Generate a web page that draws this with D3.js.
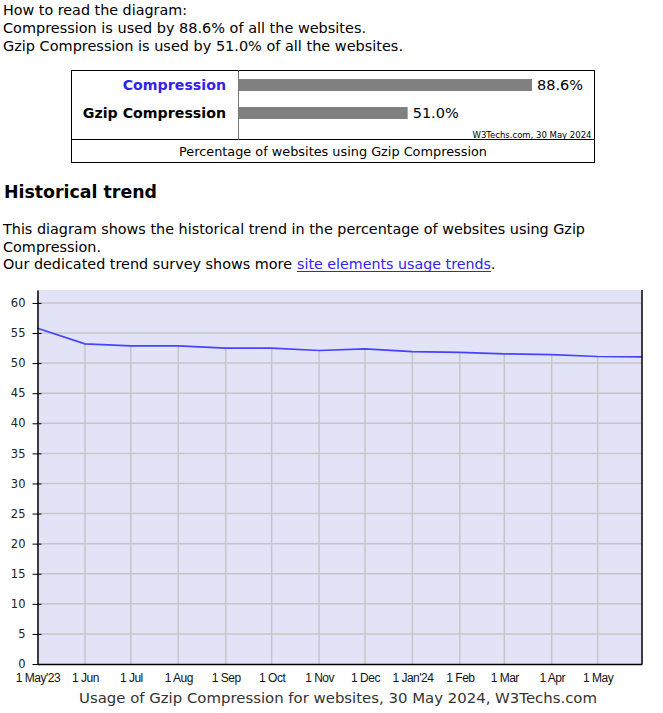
<!DOCTYPE html>
<html>
<head>
<meta charset="utf-8">
<script src="https://cdn.jsdelivr.net/npm/d3@7"></script>
<style>
  html, body { margin: 0; padding: 0; background: #fff; }
  svg { display: block; font-family: "DejaVu Sans", Verdana, sans-serif; }
</style>
</head>
<body>
<svg id="page" width="663" height="713"></svg>
<script>
// ---------- data ----------
const barCategories = ["Compression", "Gzip Compression"];
const barValues = [88.6, 51.0];
const barColors = ["#3322ee", "#000000"];

const trendDates = ["2023-05-01","2023-06-01","2023-07-01","2023-08-01","2023-09-01","2023-10-01",
  "2023-11-01","2023-12-01","2024-01-01","2024-02-01","2024-03-01","2024-04-01","2024-05-01","2024-05-30"];
const trendValues = [55.8, 53.2, 52.85, 52.85, 52.5, 52.5, 52.1, 52.35, 51.9, 51.8, 51.55, 51.4, 51.1, 51.05];

const xTickDates = ["2023-05-01","2023-06-01","2023-07-01","2023-08-01","2023-09-01","2023-10-01",
  "2023-11-01","2023-12-01","2024-01-01","2024-02-01","2024-03-01","2024-04-01","2024-05-01"];
const xTickLabels = ["1 May'23","1 Jun","1 Jul","1 Aug","1 Sep","1 Oct","1 Nov","1 Dec","1 Jan'24","1 Feb","1 Mar","1 Apr","1 May"];
const yTicks = [0,5,10,15,20,25,30,35,40,45,50,55,60];

// ---------- page ----------
const svg = d3.select("#page");
const parse = d3.timeParse("%Y-%m-%d");

function txt(x, y, s, opts = {}) {
  const t = svg.append("text").attr("x", x).attr("y", y).text(s)
    .attr("font-size", opts.size || 14)
    .attr("fill", opts.fill || "#000")
    .attr("text-anchor", opts.anchor || "start");
  if (opts.bold) t.attr("font-weight", "bold");
  if (opts.family) t.attr("font-family", opts.family);
  if (opts.len) t.attr("textLength", opts.len).attr("lengthAdjust", "spacingAndGlyphs");
  return t;
}

txt(3, 15, "How to read the diagram:", {len: 184});
txt(3, 33, "Compression is used by 88.6% of all the websites.", {len: 363});
txt(3, 51, "Gzip Compression is used by 51.0% of all the websites.", {len: 400});

// ---------- bar chart box ----------
const box = {l: 71.5, r: 594.5, t: 70.5, b: 162.5, div: 139.5, split: 238.5};
svg.append("rect").attr("x", box.l).attr("y", box.t).attr("width", box.r - box.l).attr("height", box.b - box.t)
  .attr("fill", "none").attr("stroke", "#000").attr("stroke-width", 1);
svg.append("line").attr("x1", box.l).attr("x2", box.r).attr("y1", box.div).attr("y2", box.div).attr("stroke", "#000");
svg.append("line").attr("x1", box.split).attr("x2", box.split).attr("y1", box.t).attr("y2", box.div).attr("stroke", "#777");

const bx = d3.scaleLinear().domain([0, 100]).range([239, 239 + 330.7]);
const by = d3.scaleBand().domain(barCategories).range([71, 127]).paddingInner(0.5).paddingOuter(0.25);

svg.append("g").selectAll("rect").data(barCategories).join("rect")
  .attr("x", bx(0)).attr("y", d => by(d) + by.bandwidth()/2 - 6)
  .attr("width", (d, i) => bx(barValues[i]) - bx(0)).attr("height", 12)
  .attr("fill", "#808080");
svg.append("g").selectAll("text").data(barCategories).join("text")
  .attr("x", 226).attr("y", d => by(d) + by.bandwidth()/2 + 4.5)
  .attr("text-anchor", "end").attr("font-weight", "bold").attr("font-size", 14.2)
  .attr("fill", (d, i) => barColors[i]).text(d => d);
svg.append("g").selectAll("text").data(barCategories).join("text")
  .attr("x", (d, i) => bx(barValues[i]) + 5).attr("y", d => by(d) + by.bandwidth()/2 + 4.5)
  .attr("font-size", 14.5).text((d, i) => barValues[i].toFixed(1) + "%");

txt(591.5, 137.5, "W3Techs.com, 30 May 2024", {size: 9, anchor: "end", len: 119});
txt(333, 156, "Percentage of websites using Gzip Compression", {size: 13, anchor: "middle", len: 308});

// ---------- section text ----------
txt(4, 198, "Historical trend", {size: 17.5, bold: true, len: 153});
txt(3, 234, "This diagram shows the historical trend in the percentage of websites using Gzip", {len: 582});
txt(3, 251.5, "Compression.", {len: 98});
txt(3, 269, "Our dedicated trend survey shows more", {len: 289});
txt(297, 269, "site elements usage trends", {fill: "#3322ee", len: 194});
svg.append("line").attr("x1", 297).attr("x2", 491).attr("y1", 271.5).attr("y2", 271.5).attr("stroke", "#3322ee").attr("stroke-width", 1);
txt(491, 269, ".", {});

// ---------- trend chart ----------
const plot = {l: 37.5, r: 642, t: 290, b: 664};
const x = d3.scaleTime().domain([parse("2023-05-01"), parse("2024-05-30")]).range([plot.l, plot.r]);
const y = d3.scaleLinear().domain([0, 62.15]).range([plot.b, plot.t]);

svg.append("rect").attr("x", plot.l).attr("y", plot.t).attr("width", plot.r - plot.l).attr("height", plot.b - plot.t)
  .attr("fill", "#e3e3f8");

// horizontal grid
svg.append("g").selectAll("line").data(yTicks.filter(v => v > 0)).join("line")
  .attr("x1", plot.l).attr("x2", plot.r).attr("y1", d => y(d)).attr("y2", d => y(d))
  .attr("stroke", "#c6c6c6").attr("stroke-width", 1.5);
// vertical grid
svg.append("g").selectAll("line").data(xTickDates.slice(1)).join("line")
  .attr("x1", d => x(parse(d))).attr("x2", d => x(parse(d)))
  .attr("y1", d => y(trendValues[xTickDates.indexOf(d)]) ).attr("y2", plot.b)
  .attr("stroke", "#c6c6c6").attr("stroke-width", 1.5);

// line
const line = d3.line().x((d, i) => x(parse(trendDates[i]))).y(d => y(d));
svg.append("path").datum(trendValues).attr("d", line)
  .attr("fill", "none").attr("stroke", "#4444ff").attr("stroke-width", 1.7);

// y axis
const yAxis = d3.axisLeft(y).tickValues(yTicks).tickSizeOuter(0).tickSizeInner(5).tickPadding(7);
const ya = svg.append("g").attr("transform", `translate(${plot.l},0)`).call(yAxis);
ya.select(".domain").attr("stroke", "#000").attr("stroke-width", 1.5);
ya.selectAll(".tick line").attr("stroke", "#000").attr("x2", -5).attr("x1", 4);
ya.selectAll(".tick text").attr("font-family", "DejaVu Sans").attr("font-size", 11.5).attr("fill", "#222");

// x axis
const xAxis = d3.axisBottom(x).tickValues(xTickDates.map(parse)).tickSize(0).tickPadding(9)
  .tickFormat((d, i) => xTickLabels[i]);
const xa = svg.append("g").attr("transform", `translate(0,${plot.b})`).call(xAxis);
xa.select(".domain").attr("stroke", "#000").attr("stroke-width", 1.5);
xa.selectAll(".tick text").attr("font-family", "Liberation Sans, Arial, sans-serif").attr("font-size", 12)
  .attr("letter-spacing", "-0.5").attr("fill", "#111");

// right border
svg.append("line").attr("x1", plot.r).attr("x2", plot.r).attr("y1", plot.t).attr("y2", plot.b)
  .attr("stroke", "#000").attr("stroke-width", 1.5);

txt(338, 703, "Usage of Gzip Compression for websites, 30 May 2024, W3Techs.com", {size: 14, anchor: "middle", fill: "#333", len: 518});
</script>
</body>
</html>
